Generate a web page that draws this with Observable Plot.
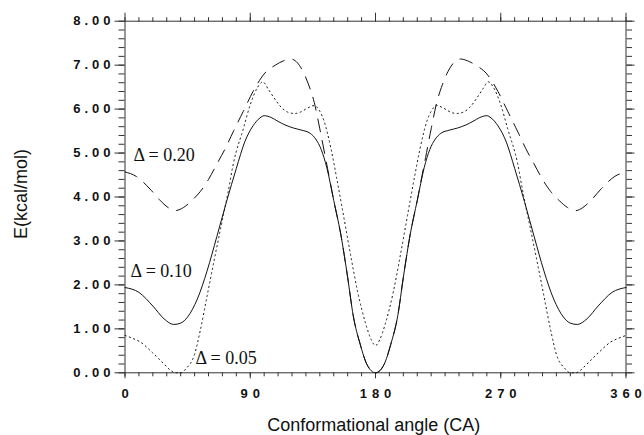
<!DOCTYPE html>
<html>
<head>
<meta charset="utf-8">
<script src="https://cdn.jsdelivr.net/npm/d3@7"></script>
<script src="https://cdn.jsdelivr.net/npm/@observablehq/plot@0.6"></script>
<style>
  body { margin: 0; background: #fff; }
  #chart { width: 644px; height: 435px; }
</style>
</head>
<body>
<div id="chart"></div>
<script>
// Δ = 0.10 (solid)
const angle10 = [0,10,20,28,35,40,45,52,59,66,73,80,86,92,97,100,105,110,115,121,127,133,137,141,145,150,155,160,164,169,174,180,
  186,191,196,200,205,210,215,219,223,227,233,239,245,250,255,260,263,268,274,280,287,294,301,308,315,320,325,332,340,350,360];
const energy10 = [1.94,1.83,1.52,1.23,1.10,1.13,1.27,1.68,2.32,3.10,3.90,4.65,5.25,5.62,5.80,5.85,5.81,5.72,5.64,5.57,5.52,5.45,5.32,5.08,4.67,3.92,3.16,2.17,1.30,0.65,0.18,0,
  0.18,0.65,1.30,2.17,3.16,3.92,4.67,5.08,5.32,5.45,5.52,5.57,5.64,5.72,5.81,5.85,5.80,5.62,5.25,4.65,3.90,3.10,2.32,1.68,1.27,1.13,1.10,1.23,1.52,1.83,1.94];

// Δ = 0.05 (dotted)
const angle05 = [0,5,11,20,28,33,36,40,44,50,54,59,64,69,74,78,85,90,95,99,103,107,112,117,122,126,131,136,140,143,148,152,157,162,167,173,177,180,
  183,187,193,198,203,208,212,217,220,224,229,234,238,243,248,253,257,261,265,270,275,282,286,291,296,301,306,310,316,320,324,327,332,340,349,355,360];
const energy05 = [0.85,0.79,0.70,0.45,0.20,0.05,0,0,0.10,0.42,0.95,1.75,2.55,3.33,4.10,4.78,5.55,6.10,6.48,6.62,6.45,6.26,6.05,5.93,5.90,5.93,6.02,6.08,5.95,5.73,5.10,4.45,3.58,2.70,1.87,1.11,0.75,0.62,
  0.75,1.11,1.87,2.70,3.58,4.45,5.10,5.73,5.95,6.08,6.02,5.93,5.90,5.93,6.05,6.26,6.45,6.62,6.48,6.10,5.55,4.78,4.10,3.33,2.55,1.75,0.95,0.42,0.10,0,0,0.05,0.20,0.45,0.70,0.79,0.85];

// Δ = 0.20 (dashed)
const angle20 = [0,8,18,25,31,36,42,48,54,60,66,72,78,85,92,100,108,114,119,124,128,132,136,140,144,148,150,155,160,164,169,174,180,
  186,191,196,200,205,210,212,216,220,224,228,232,236,241,246,252,260,268,275,282,288,294,300,306,312,318,324,329,335,342,352,360];
const energy20 = [4.57,4.47,4.18,3.93,3.76,3.69,3.76,3.92,4.12,4.40,4.75,5.10,5.50,5.95,6.40,6.80,7.00,7.10,7.14,7.05,6.85,6.55,6.15,5.55,4.90,4.25,3.92,3.16,2.17,1.30,0.65,0.18,0,
  0.18,0.65,1.30,2.17,3.16,3.92,4.25,4.90,5.55,6.15,6.55,6.85,7.05,7.14,7.10,7.00,6.80,6.40,5.95,5.50,5.10,4.75,4.40,4.12,3.92,3.76,3.69,3.76,3.93,4.18,4.47,4.57];

const xMajorTicks = [0, 90, 180, 270, 360];
const xMinorTicks = d3.range(0, 361, 10);
const yMajorTicks = [0, 1, 2, 3, 4, 5, 6, 7, 8];
const yMinorTicks = d3.range(0, 41).map(i => i / 5);

const labelText = ["Δ = 0.20", "Δ = 0.10", "Δ = 0.05"];
const labelAngle = [6.1, 4.0, 50.6];
const labelEnergy = [4.82, 2.17, 0.20];

const rows = (a, e) => a.map((x, i) => ({angle: x, energy: e[i]}));
const labels = labelText.map((t, i) => ({text: t, angle: labelAngle[i], energy: labelEnergy[i]}));

const sans = "'Liberation Sans', Arial, Helvetica, sans-serif";
const serif = "'Liberation Serif', 'Times New Roman', serif";
const axisColor = "#333";
const blank = () => "";

const chart = Plot.plot({
  width: 644,
  height: 435,
  marginLeft: 124.5,
  marginRight: 18.5,
  marginTop: 20.7,
  marginBottom: 62.7,
  x: {domain: [0, 360]},
  y: {domain: [0, 8]},
  style: {background: "white", color: "black", overflow: "visible"},
  marks: [
    // minor/major ticks on all four sides
    Plot.axisX(xMinorTicks, {anchor: "bottom", tickSize: 4, tickFormat: blank, label: null, stroke: axisColor}),
    Plot.axisX(xMajorTicks, {anchor: "bottom", tickSize: 6, tickFormat: blank, label: null, stroke: axisColor}),
    Plot.axisX(xMinorTicks, {anchor: "top", tickSize: 4.5, tickFormat: blank, label: null, stroke: axisColor}),
    Plot.axisX(xMajorTicks, {anchor: "top", tickSize: 9, tickFormat: blank, label: null, stroke: axisColor}),
    Plot.axisY(yMinorTicks, {anchor: "left", tickSize: 6, tickFormat: blank, label: null, stroke: axisColor}),
    Plot.axisY(yMajorTicks, {anchor: "left", tickSize: 10, tickFormat: blank, label: null, stroke: axisColor}),
    Plot.axisY(yMinorTicks, {anchor: "right", tickSize: 5.5, tickFormat: blank, label: null, stroke: axisColor}),
    Plot.axisY(yMajorTicks, {anchor: "right", tickSize: 8, tickFormat: blank, label: null, stroke: axisColor}),
    Plot.frame({stroke: axisColor, strokeWidth: 1}),
    // tick labels
    Plot.text(yMajorTicks, {
      y: d => d, frameAnchor: "left", dx: -14.5, textAnchor: "end", lineAnchor: "middle",
      text: d => d.toFixed(2), fontSize: 13, fontWeight: "bold", fontFamily: sans, fill: "#111"
    }),
    Plot.text(xMajorTicks, {
      x: d => d, frameAnchor: "bottom", dy: 21, textAnchor: "middle", lineAnchor: "middle",
      text: d => String(d), fontSize: 13, fontWeight: "bold", fontFamily: sans, fill: "#111"
    }),
    // axis titles
    Plot.text(["Conformational angle (CA)"], {
      frameAnchor: "bottom", dy: 57.7, dx: -1.7, lineAnchor: "bottom", textAnchor: "middle",
      fontSize: 18, fontFamily: sans, fill: "#111"
    }),
    Plot.text(["E(kcal/mol)"], {
      frameAnchor: "left", dx: -98.5, dy: -3, rotate: -90, lineAnchor: "bottom", textAnchor: "middle",
      fontSize: 18, fontFamily: sans, fill: "#111"
    }),
    // curves
    Plot.line(rows(angle20, energy20), {
      x: "angle", y: "energy", curve: "monotone-x", stroke: "#111", strokeWidth: 1, strokeDasharray: "13,9"
    }),
    Plot.line(rows(angle05, energy05), {
      x: "angle", y: "energy", curve: "monotone-x", stroke: "#111", strokeWidth: 1, strokeDasharray: "1.2,3.4"
    }),
    Plot.line(rows(angle10, energy10), {
      x: "angle", y: "energy", curve: "monotone-x", stroke: "#111", strokeWidth: 1
    }),
    // Δ labels
    Plot.text(labels, {
      x: "angle", y: "energy", text: "text", textAnchor: "start", lineAnchor: "bottom",
      fontSize: 18, fontFamily: serif, fill: "#111"
    })
  ]
});
document.getElementById("chart").appendChild(chart);

// wide letter-spacing between the digits of tick labels (no trailing space after the last digit)
const svgns = "http://www.w3.org/2000/svg";
d3.select(chart).selectAll("text").each(function () {
  const t = this.textContent;
  let sp = null;
  if (/^\d\.\d\d$/.test(t)) sp = "4px";
  else if (/^\d+$/.test(t)) sp = "5px";
  if (!sp || t.length < 2) return;
  this.textContent = t.slice(0, -1);
  this.style.letterSpacing = sp;
  const last = document.createElementNS(svgns, "tspan");
  last.textContent = t.slice(-1);
  last.style.letterSpacing = "0px";
  this.appendChild(last);
});
</script>
</body>
</html>
